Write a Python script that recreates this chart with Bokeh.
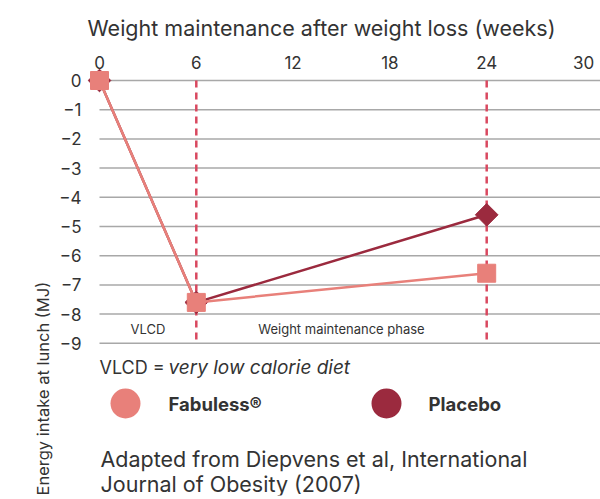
from bokeh.plotting import figure
from bokeh.models import Range1d, LinearAxis, FixedTicker, Title
from bokeh.core.properties import value
from bokeh.embed import file_html
from bokeh.resources import INLINE
import math

# ---- data ----
weeks = [0, 6, 24]
fabuless = [0, -7.6, -6.6]
placebo = [0, -7.6, -4.6]
x_ticks = [0, 6, 12, 18, 24, 30]
y_ticks = [0, -1, -2, -3, -4, -5, -6, -7, -8, -9]
phase_weeks = [6, 24]
phase_labels = ["VLCD", "Weight maintenance phase"]
phase_centers = [3, 15]
series_names = ["Fabuless®", "Placebo"]

FONT = "Inter"
TXT = "#333333"
C_FAB = "#E8807A"
C_PLA = "#9B2A3E"
C_DASH = "#D9485F"
C_GRID = "#A8A8A8"

SX = 16.133  # px per week
SY = 29.2    # px per MJ
X0 = 99      # px of week 0
Y0 = 80      # px of 0 MJ
W, H = 600, 499
FL, FT, FB = 87, 68, 495  # frame left / top / bottom


def dx(px):
    return (px - X0) / SX


def dy(py):
    return (Y0 - py) / SY


p = figure(width=W, height=H, output_backend="svg", toolbar_location=None,
           x_range=Range1d(dx(FL), dx(W)), y_range=Range1d(dy(FB), dy(FT)),
           x_axis_location=None, y_axis_location=None, title_location=None,
           min_border_left=FL, min_border_right=0, min_border_top=FT, min_border_bottom=H - FB)
p.outline_line_color = None
p.xgrid.visible = False
p.ygrid.visible = False
p.background_fill_color = "white"
p.border_fill_color = "white"


def clean(ax):
    ax.axis_line_color = None
    ax.major_tick_line_color = None
    ax.minor_tick_line_color = None
    ax.major_tick_out = 0
    ax.major_tick_in = 0
    ax.minor_tick_out = 0
    ax.minor_tick_in = 0
    ax.major_label_text_font = FONT
    ax.major_label_text_color = TXT


# top tick axis
ax_top = LinearAxis(ticker=FixedTicker(ticks=x_ticks))
clean(ax_top)
ax_top.major_label_standoff = 0
ax_top.major_label_text_font_size = "17px"
p.add_layout(ax_top, "above")

# top title
p.add_layout(Title(text="Weight maintenance after weight loss (weeks)", align="left", offset=0,
                   standoff=24, text_font=FONT, text_font_size="21.5px",
                   text_font_style="normal", text_color=TXT), "above")

# left tick axis
ax_left = LinearAxis(ticker=FixedTicker(ticks=y_ticks))
clean(ax_left)
ax_left.major_label_standoff = 6
ax_left.major_label_text_font_size = "17px"
ax_left.major_label_overrides = {t: ("0" if t == 0 else "\u2212" + str(abs(t))) for t in y_ticks}
p.add_layout(ax_left, "left")

# left title
p.add_layout(Title(text="Energy intake at lunch (MJ)", align="left", offset=0,
                   standoff=8, text_font=FONT, text_font_size="16.5px", text_font_style="normal",
                   text_color=TXT), "left")

# gridlines from week 0 to the right edge
xe = dx(W)
p.segment(x0=[0] * len(y_ticks), y0=y_ticks, x1=[xe] * len(y_ticks), y1=y_ticks,
          line_color=C_GRID, line_width=1.5)

# phase dashed lines
p.segment(x0=phase_weeks, y0=[0] * len(phase_weeks), x1=phase_weeks, y1=[y_ticks[-1]] * len(phase_weeks),
          line_color=C_DASH, line_width=2.5, line_dash="7 5")

# phase labels
p.text(x=phase_centers, y=[-8.5, -8.5], text=phase_labels, text_font=value(FONT),
       text_font_size="13px", text_align="center", text_baseline="middle", text_color=TXT)

# series
p.line(weeks, placebo, line_color=C_PLA, line_width=2.5)
p.scatter(weeks, placebo, marker="square", angle=math.pi / 4, size=16, fill_color=C_PLA, line_color=C_PLA)
p.line(weeks, fabuless, line_color=C_FAB, line_width=2.5)
p.scatter(weeks, fabuless, marker="square", size=18, fill_color=C_FAB, line_color=C_FAB)

# note
p.text(x=[dx(99)], y=[dy(367)], text=["VLCD ="], text_font=value(FONT), text_font_size="18px",
       text_align="left", text_baseline="middle", text_color=TXT)
p.text(x=[dx(168)], y=[dy(367)], text=["very low calorie diet"], text_font=value(FONT), text_font_size="19px",
       text_font_style="italic", text_align="left", text_baseline="middle", text_color=TXT)

# legend
p.scatter(x=[dx(125), dx(386)], y=[dy(403), dy(403)], marker="circle", size=30,
          fill_color=[C_FAB, C_PLA], line_color=None)
p.text(x=[dx(168), dx(428)], y=[dy(403), dy(403)], text=series_names, text_font=value(FONT),
       text_font_size="18.5px", text_font_style="bold", text_align="left", text_baseline="middle", text_color=TXT)

# citation
p.text(x=[dx(100), dx(100)], y=[dy(458), dy(483)],
       text=["Adapted from Diepvens et al, International", "Journal of Obesity (2007)"],
       text_font=value(FONT), text_font_size="21.5px", text_align="left", text_baseline="alphabetic", text_color=TXT)

open("out.html", "w").write(file_html(p, INLINE))
